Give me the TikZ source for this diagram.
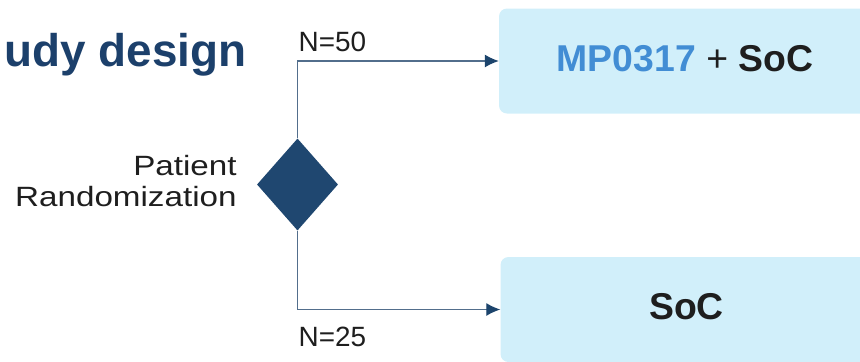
\documentclass[tikz,border=0pt]{standalone}
\usepackage{fontspec}
\setmainfont{Liberation Sans}
\newfontfamily\wideSans[FakeStretch=1.19]{Liberation Sans}
\usetikzlibrary{positioning,shapes.geometric,arrows.meta}
\definecolor{titleBlue}{RGB}{28,64,107}
\definecolor{diamondBlue}{RGB}{31,71,112}
\definecolor{linkGrey}{RGB}{82,110,140}
\definecolor{tipBlue}{RGB}{28,68,108}
\definecolor{armFill}{RGB}{209,239,250}
\definecolor{drugBlue}{RGB}{66,141,212}
\definecolor{inkDark}{RGB}{30,30,30}
\begin{document}
\begin{tikzpicture}[
        x=1bp, y=-1bp,
        armbox/.style={fill=armFill, rounded corners=8bp, minimum width=372bp,
          minimum height=105bp, inner sep=0pt, text depth=6bp, text=inkDark,
          font=\fontsize{37.5}{40}\selectfont\bfseries},
        link/.style={draw=linkGrey, line width=1.2bp,
          -{Latex[length=14bp,width=13bp,color=tipBlue]}},
        nlabel/.style={inner sep=0pt, text=inkDark,
          font=\fontsize{28}{32}\selectfont}]

  \useasboundingbox (0,0) rectangle (860,361);

  % title ---------------------------------------------------
  \node[anchor=base east, inner sep=0pt, text=titleBlue,
        font=\fontsize{46}{50}\selectfont\bfseries] (title) at (246.5,66.5) {udy design};

  % randomization diamond -----------------------------------
  \node[diamond, fill=diamondBlue, minimum width=81bp, minimum height=92bp,
        inner sep=0pt] (rand) at (297.5,184.5) {};
  \node[nlabel, align=right, left=20bp of rand, yshift=3.5bp,
        font=\wideSans\fontsize{28}{32}\selectfont] (randText) {Patient\\Randomization};

  % the two arms --------------------------------------------
  \node[armbox] (armA) at (685,61) {\textcolor{drugBlue}{MP0317} {\mdseries +} SoC};
  \node[armbox] (armB) at (686.5,309.5) {SoC};

  % connectors ----------------------------------------------
  \coordinate (upBend)   at (rand.north |- armA.west);
  \coordinate (downBend) at (rand.south |- armB.west);
  \draw[link] (rand.north) -- (upBend) -- (armA.west);
  \draw[link] (rand.south) -- (downBend) -- (armB.west);

  \node[nlabel, above right=9.5bp and 1bp of upBend] (nTop) {N=50};
  \node[nlabel, below right=17bp and 1bp of downBend] (nBottom) {N=25};

\end{tikzpicture}
\end{document}
